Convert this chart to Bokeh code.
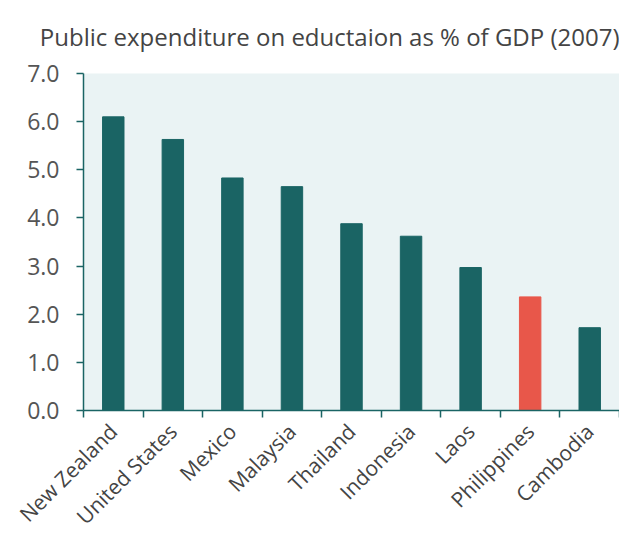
import numpy as np
from bokeh.plotting import figure
from bokeh.models import Range1d, FixedTicker, ColumnDataSource
from bokeh.embed import file_html
from bokeh.resources import INLINE

countries = ["New Zealand", "United States", "Mexico", "Malaysia", "Thailand",
             "Indonesia", "Laos", "Philippines", "Cambodia"]
values = [6.1, 5.63, 4.83, 4.65, 3.88, 3.62, 2.97, 2.36, 1.72]
highlight = "Philippines"
y_ticks = [0, 1, 2, 3, 4, 5, 6, 7]
title_text = "Public expenditure on eductaion as % of GDP (2007)"

TEAL = "#1a6464"
RED = "#e8574a"
FONT = "Open Sans"

xpos = [i + 0.5 for i in range(len(countries))]
colors = [RED if c == highlight else TEAL for c in countries]
src = ColumnDataSource(dict(x=xpos, top=values, color=colors, name=countries))

p = figure(width=619, height=542, output_backend="svg", toolbar_location=None,
           x_range=Range1d(0, len(countries)), y_range=Range1d(0, 7),
           min_border_left=83, min_border_right=0, min_border_top=73, min_border_bottom=132,
           background_fill_color="#eaf3f4", border_fill_color="white")
p.outline_line_color = None
p.grid.visible = False

p.vbar(x="x", top="top", width=0.36, bottom=0, color="color", source=src)

p.title.text = title_text
p.title.align = "right"
p.title.text_font = FONT
p.title.text_font_size = "24px"
p.title.text_font_style = "normal"
p.title.text_color = "#444444"
p.title.vertical_align = "top"
p.title.standoff = 37

# y axis
p.yaxis.ticker = FixedTicker(ticks=y_ticks, minor_ticks=[])
p.yaxis.major_label_overrides = {t: f"{t:.1f}" for t in y_ticks}
p.yaxis.axis_line_color = TEAL
p.yaxis.major_tick_line_color = TEAL
p.yaxis.major_tick_out = 7
p.yaxis.major_tick_in = 0
p.yaxis.minor_tick_line_color = None
p.yaxis.major_label_standoff = 17
p.yaxis.major_label_text_font = FONT
p.yaxis.major_label_text_font_size = "23px"
p.yaxis.major_label_text_color = "#555555"
p.yaxis.axis_line_width = 1.5
p.yaxis.major_tick_line_width = 1.5

# x axis
p.xaxis.ticker = FixedTicker(ticks=xpos, minor_ticks=list(range(len(countries) + 1)))
p.xaxis.major_label_overrides = {x: c for x, c in zip(xpos, countries)}
p.xaxis.major_tick_line_color = None
p.xaxis.minor_tick_line_color = TEAL
p.xaxis.minor_tick_out = 7
p.xaxis.minor_tick_in = 0
p.xaxis.minor_tick_line_width = 1.5
p.xaxis.axis_line_color = TEAL
p.xaxis.axis_line_width = 1.5
p.xaxis.major_label_orientation = np.pi / 4
p.xaxis.major_label_standoff = 10
p.xaxis.major_label_text_font = FONT
p.xaxis.major_label_text_font_size = "21px"
p.xaxis.major_label_text_color = "#444444"

open("out.html", "w").write(file_html(p, INLINE))
